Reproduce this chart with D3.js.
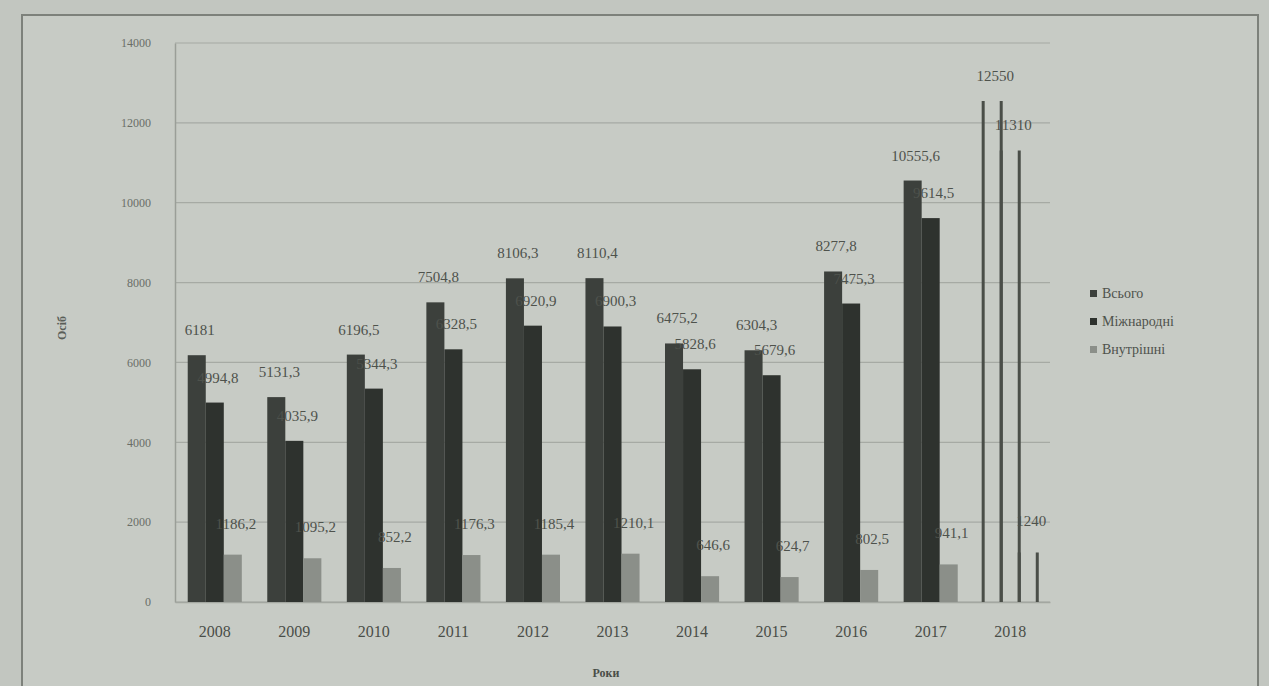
<!DOCTYPE html>
<html>
<head>
<meta charset="utf-8">
<script src="https://cdn.jsdelivr.net/npm/d3@7"></script>
<style>
  html, body { margin: 0; padding: 0; background: #c2c6c0; }
  svg { display: block; }
</style>
</head>
<body>
<div id="chart"></div>
<script>
// data
const years = ['2008', '2009', '2010', '2011', '2012', '2013', '2014', '2015', '2016', '2017', '2018'];
const totalValues = [6181, 5131.3, 6196.5, 7504.8, 8106.3, 8110.4, 6475.2, 6304.3, 8277.8, 10555.6, 12550];
const intlValues = [4994.8, 4035.9, 5344.3, 6328.5, 6920.9, 6900.3, 5828.6, 5679.6, 7475.3, 9614.5, 11310];
const domValues = [1186.2, 1095.2, 852.2, 1176.3, 1185.4, 1210.1, 646.6, 624.7, 802.5, 941.1, 1240];
const seriesNames = ['Всього', 'Міжнародні', 'Внутрішні'];
const yTicks = [0, 2000, 4000, 6000, 8000, 10000, 12000, 14000];
const hollowYears = ['2018'];

const W = 1269, H = 686;
const FONT = '"Liberation Serif", "DejaVu Serif", serif';
const colors = ['#3c403c', '#2e322e', '#8b8f89'];

const svg = d3.select('#chart').append('svg')
  .attr('width', W)
  .attr('height', H);

// photo-like frame of the chart area
svg.append('rect')
  .attr('x', 22).attr('y', 15)
  .attr('width', 1236).attr('height', 700)
  .attr('fill', '#c7cbc5')
  .attr('stroke', '#7d817b')
  .attr('stroke-width', 2);

const x = d3.scaleBand().domain(years).range([175, 1050]).paddingInner(0.32).paddingOuter(0.16);
const x1 = d3.scaleBand().domain(seriesNames).range([0, x.bandwidth()]);
const y = d3.scaleLinear().domain([0, 14000]).range([602, 43]);

// gridlines
svg.append('g')
  .selectAll('line')
  .data(yTicks)
  .join('line')
    .attr('x1', 175).attr('x2', 1050)
    .attr('y1', d => y(d)).attr('y2', d => y(d))
    .attr('stroke', '#a6aaa4')
    .attr('stroke-width', 1.2);

// y axis
const yAxis = svg.append('g')
  .attr('transform', 'translate(175,0)')
  .call(d3.axisLeft(y).tickValues(yTicks).tickFormat(d3.format('d')).tickSize(0).tickPadding(24));
yAxis.select('.domain').attr('stroke', '#9a9e98').attr('stroke-width', 1.5);
yAxis.selectAll('text')
  .attr('font-family', FONT)
  .attr('font-size', 12)
  .attr('fill', '#6a6e68');

// x axis
const xAxis = svg.append('g')
  .attr('transform', 'translate(0,602)')
  .call(d3.axisBottom(x).tickSize(0).tickPadding(24));
xAxis.select('.domain').attr('stroke', '#a3a7a1').attr('stroke-width', 1.5);
xAxis.selectAll('text')
  .attr('font-family', FONT)
  .attr('font-size', 16)
  .attr('fill', '#4a4e48');

// axis titles
svg.append('text')
  .attr('transform', 'translate(66,328) rotate(-90)')
  .attr('text-anchor', 'middle')
  .attr('font-family', FONT)
  .attr('font-size', 12)
  .attr('font-weight', 'bold')
  .attr('fill', '#5a5e58')
  .text('Осіб');

svg.append('text')
  .attr('x', 606).attr('y', 677)
  .attr('text-anchor', 'middle')
  .attr('font-family', FONT)
  .attr('font-size', 12)
  .attr('font-weight', 'bold')
  .attr('fill', '#4a4e48')
  .text('Роки');

// flatten to one record per bar
const bars = [];
years.forEach((yr, i) => {
  [totalValues[i], intlValues[i], domValues[i]].forEach((v, s) => {
    bars.push({ year: yr, series: seriesNames[s], idx: s, value: v, hollow: hollowYears.includes(yr) });
  });
});

const barG = svg.append('g');

barG.selectAll('rect')
  .data(bars.filter(d => !d.hollow))
  .join('rect')
    .attr('x', d => x(d.year) + x1(d.series))
    .attr('y', d => y(d.value))
    .attr('width', x1.bandwidth())
    .attr('height', d => y(0) - y(d.value))
    .attr('fill', d => colors[d.idx]);

// 2018 printed as outlines only (side lines, no top); neighbours share an edge
const hollow = bars.filter(d => d.hollow);
barG.selectAll('line.side')
  .data(hollow.flatMap(d => [
    { ...d, xp: x(d.year) + x1(d.series) },
    { ...d, xp: x(d.year) + x1(d.series) + x1.bandwidth() }
  ]))
  .join('line')
    .attr('class', 'side')
    .attr('x1', d => d.xp).attr('x2', d => d.xp)
    .attr('y1', d => y(d.value)).attr('y2', y(0))
    .attr('stroke', '#4a4e48')
    .attr('stroke-width', 3);

// value labels
const fmt = v => String(v).replace('.', ',');
svg.append('g')
  .selectAll('text')
  .data(bars)
  .join('text')
    .attr('x', d => x(d.year) + x1(d.series) + x1.bandwidth() / 2 + 3)
    .attr('y', d => y(d.value) - (d.idx === 2 ? 26 : 20))
    .attr('text-anchor', 'middle')
    .attr('font-family', FONT)
    .attr('font-size', 15)
    .attr('fill', '#4e524c')
    .text(d => fmt(d.value));

// legend
const legend = svg.append('g')
  .selectAll('g')
  .data(seriesNames)
  .join('g')
    .attr('transform', (d, i) => `translate(1090,${298 + i * 28})`);
legend.append('rect')
  .attr('x', 0).attr('y', -8)
  .attr('width', 7).attr('height', 7)
  .attr('fill', (d, i) => colors[i]);
legend.append('text')
  .attr('x', 12).attr('y', 0)
  .attr('font-family', FONT)
  .attr('font-size', 14)
  .attr('fill', '#4e524c')
  .text(d => d);
</script>
</body>
</html>
